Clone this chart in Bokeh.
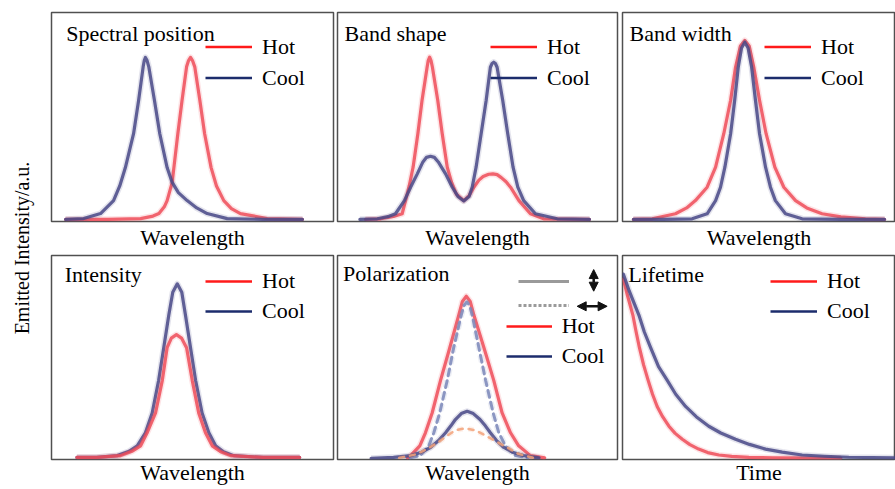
import math
from bokeh.plotting import figure
from bokeh.layouts import row, column
from bokeh.models import Range1d, FixedTicker, Legend, LegendItem, Arrow, NormalHead
from bokeh.core.properties import value
from bokeh.embed import file_html
from bokeh.resources import INLINE

FONT = "Liberation Serif"

# ---------------- data (x in % of panel width, y in % of panel height)
panel_titles = ["Spectral position", "Band shape", "Band width", "Intensity", "Polarization", "Lifetime"]
x_labels = ["Wavelength", "Wavelength", "Wavelength", "Wavelength", "Wavelength", "Time"]
legend_labels = ["Hot", "Cool"]
y_label = "Emitted Intensity/a.u."

# Spectral position
spec_cool_x = [5, 11.4, 17.4, 22.0, 24.2, 26.2, 29.1, 30.9, 32.5, 32.9, 33.3, 33.9, 34.5, 36.5, 38.4, 41.0, 42.8, 45.0, 48.1, 51.5, 55.2, 62.3, 75, 89]
spec_cool_y = [1, 1.4, 3.8, 10, 17, 25.8, 42, 58, 74, 77, 78.5, 77, 74, 58, 42, 25.8, 18.7, 13.8, 10, 6.5, 3.8, 1.4, 1, 1]
spec_hot_x = [5, 20, 31.6, 36, 38.1, 40.0, 41.0, 42.8, 43.4, 44.8, 46.3, 47.9, 48.6, 49.3, 50.0, 50.8, 52.6, 54.3, 56.6, 58.5, 61.1, 63.8, 67.0, 76.5, 89]
spec_hot_y = [1, 1, 1.4, 2.6, 3.8, 7, 10, 18.7, 25.8, 42, 58, 74, 77, 78.5, 77, 74, 58, 42, 25.8, 17, 10, 6.2, 3.8, 1.4, 1]

# Band shape
band_hot_x = [10, 15.4, 20, 23.1, 24.3, 25.6, 27.0, 28.7, 30.2, 32.0, 32.4, 32.9, 33.4, 33.9, 35.8, 37.4, 39.2, 40.8, 42.5, 45.1, 47.0, 48.7, 50.5, 52.0, 54.0, 55.5, 57.0, 58.5, 60.2, 61.8, 64.8, 68.9, 73.6, 90]
band_hot_y = [1, 1.3, 2.4, 3.7, 10, 17, 26, 42, 58, 73.8, 77, 78.6, 77, 73.8, 58, 42, 26, 18.5, 13, 10, 12.4, 16.4, 19.8, 21.5, 22.6, 22.8, 22.4, 21, 19, 16.4, 10, 3.7, 1.3, 1]
band_cool_x = [8, 14.2, 18, 20.7, 23.9, 26.1, 28.5, 30.5, 31.8, 33.2, 34.6, 36.0, 38.6, 41.0, 43.0, 45.1, 47.0, 48.1, 49.5, 51.3, 53.1, 54.6, 55.2, 55.8, 56.4, 57.0, 59.0, 60.8, 62.7, 64.4, 66.5, 70.7, 78.5, 90]
band_cool_y = [1, 1.3, 2.3, 3.7, 10, 16.4, 22.8, 28.5, 30.7, 31.2, 30.7, 28.5, 22.8, 16.4, 12, 9.8, 12, 16.4, 26, 42, 58, 73.8, 75.6, 76.2, 75.6, 73.8, 58, 42, 26, 16.4, 10, 3.7, 1.3, 1]

# Band width
width_hot_x = [4, 10.9, 19.4, 23.5, 26.7, 31.0, 34.1, 37.1, 39.6, 41.4, 43.2, 44.8, 46.4, 48.1, 50.2, 52.6, 55.8, 59.1, 63.4, 67.5, 73.1, 80, 89, 96]
width_hot_y = [1, 1.3, 3.7, 6.5, 10, 16.4, 26, 42, 58, 73.8, 84, 86.6, 84, 73.8, 58, 42, 26, 16.4, 10, 6.5, 3.7, 2.2, 1.3, 1]
width_cool_x = [4, 15, 25.5, 31.0, 34.1, 35.9, 37.5, 39.6, 41.1, 42.4, 43.6, 44.8, 46.0, 47.3, 48.7, 50.2, 52.4, 54.2, 56.0, 59.7, 65.8, 80, 96]
width_cool_y = [1, 1, 1.3, 3.7, 10, 16.4, 26, 42, 58, 73.8, 83, 85.8, 83, 73.8, 58, 42, 26, 16.4, 10, 3.7, 1.3, 1, 1]

# Intensity
int_cool_x = [9, 16, 23.3, 27.5, 30.4, 33.3, 35.7, 38.0, 39.8, 41.6, 43.0, 44.6, 46.2, 47.5, 49.3, 51.1, 53.4, 55.8, 58.2, 61.0, 64.6, 75, 88]
int_cool_y = [1, 1, 1.9, 4, 6.7, 13.1, 22.8, 38.8, 54.8, 70.8, 82, 86.1, 82, 70.8, 54.8, 38.8, 22.8, 13.1, 6.7, 3.8, 1.9, 1, 1]
int_hot_x = [9, 16, 24.5, 28.5, 31.6, 33.9, 36.9, 39.3, 41.0, 42.5, 44.3, 46.1, 47.9, 49.9, 52.2, 54.6, 57.0, 60.0, 63.5, 75, 88]
int_hot_y = [1, 1, 1.9, 4, 6.7, 13.1, 22.8, 38.8, 54.8, 59.5, 61.2, 59.5, 54.8, 38.8, 22.8, 13.1, 6.7, 3.8, 1.9, 1, 1]

# Polarization (solid = parallel, dashed = perpendicular)
pol_hot_x = [25, 26.1, 29.4, 31.4, 33.8, 36.8, 40.1, 43.3, 44.6, 46.0, 47.4, 48.7, 52.3, 55.8, 58.8, 61.8, 64.7, 68.9, 74]
pol_hot_y = [0.8, 1.9, 6.7, 13.1, 22.8, 38.8, 54.8, 70.8, 77.5, 80.0, 77.5, 70.8, 54.8, 38.8, 22.8, 13.1, 6.7, 1.9, 0.8]
pol_cool_perp_x = [26, 29.6, 32.6, 34.4, 36.5, 39.2, 41.5, 44.2, 45.2, 46.2, 47.2, 48.1, 50.5, 52.9, 55.6, 57.6, 60.0, 63.6, 68]
pol_cool_perp_y = [0.8, 1.9, 6.7, 13.1, 22.8, 38.8, 54.8, 70.8, 75.5, 77.2, 75.5, 70.8, 54.8, 38.8, 22.8, 13.1, 6.7, 1.9, 0.8]
pol_cool_x = [12, 20, 26.1, 30, 33.2, 36.0, 38.6, 40.5, 42.1, 44.2, 46.3, 48.5, 50.9, 52.8, 54.6, 57.0, 59.4, 62.5, 66.5, 72]
pol_cool_y = [0.6, 1.0, 1.9, 3.6, 5.9, 9.2, 13.1, 16.5, 19.6, 22.5, 23.6, 22.5, 19.6, 16.5, 13.1, 9.0, 5.9, 3.6, 1.9, 0.8]
pol_hot_perp_x = [22, 28, 32.5, 36.0, 39.0, 42.0, 45.7, 49.3, 52.5, 55.2, 58.0, 60.6, 64.5, 70]
pol_hot_perp_y = [0.8, 2.5, 5.5, 8.5, 11.5, 14.3, 15.3, 14.3, 12, 10, 7.8, 5.9, 2.8, 0.8]

# Lifetime
life_cool_x = [0.3, 2.5, 6.0, 8.0, 10.3, 13.2, 16.4, 19.5, 23.1, 27.0, 31.6, 36.0, 41.4, 46.5, 52.4, 58.5, 65.8, 74.0, 82.9, 100]
life_cool_y = [90.9, 82.5, 70.8, 62.5, 54.8, 45.5, 38.8, 32.0, 26.0, 21.0, 16.3, 13.0, 9.9, 7.4, 5.1, 3.6, 2.2, 1.6, 1.1, 0.8]
life_hot_x = [0.3, 1.8, 3.8, 5.0, 6.2, 7.7, 9.4, 11.0, 12.7, 14.7, 17.0, 19.3, 21.9, 24.7, 27.9, 31.2, 35.3, 40.0, 46.3, 55.0, 80.0]
life_hot_y = [88.5, 80.5, 70.8, 62.5, 54.8, 46.5, 38.8, 32.0, 26.0, 21.0, 16.3, 12.8, 9.9, 7.3, 5.1, 3.4, 2.2, 1.5, 1.0, 0.8, 0.7]

# ---------------- styling
HOT_CURVE = "#ef4c58"
COOL_CURVE = "#484886"
COOL_DASH = "#7a86b8"
HOT_DASH = "#f2a27a"
HOT_KEY = "#ff1a1a"
COOL_KEY = "#1c2c6c"
TOTAL_H = 489


def make_panel(title, xlabel, fw, fh, top, left, right, standoff, tx, ty):
    p = figure(frame_width=fw, frame_height=fh, x_range=Range1d(0, 100), y_range=Range1d(0, 100),
               toolbar_location=None, output_backend="svg", y_axis_location=None,
               min_border_top=top, min_border_left=left, min_border_right=right, min_border_bottom=0)
    p.grid.visible = False
    p.outline_line_color = "#505050"
    p.outline_line_width = 1.5
    p.background_fill_color = "white"
    p.border_fill_color = "white"
    ax = p.xaxis[0]
    ax.ticker = FixedTicker(ticks=[])
    ax.axis_line_color = None
    ax.major_tick_out = 0
    ax.major_tick_in = 0
    ax.minor_tick_out = 0
    ax.minor_tick_in = 0
    ax.major_label_standoff = 0
    ax.axis_label = xlabel
    ax.axis_label_standoff = standoff
    ax.axis_label_text_font = FONT
    ax.axis_label_text_font_size = "22px"
    ax.axis_label_text_font_style = "normal"
    ax.axis_label_text_color = "black"
    p.text(x=[tx], y=[ty], text=[title], text_font=value(FONT), text_font_size="22px",
           text_baseline="middle", text_align="left", text_color="black")
    return p


def curve(p, xs, ys, color, dash="solid", width=3.2, alpha=0.85):
    p.line(xs, ys, line_color=color, line_width=width + 3, line_alpha=0.15, line_dash=dash, line_join="round")
    p.line(xs, ys, line_color=color, line_width=width, line_alpha=alpha, line_dash=dash,
           line_join="round", line_cap="round")


def add_key(p, labels, colors, x, y, glyph_w, row_h, dashes=None, width=2.5):
    items = []
    for i, (lab, col) in enumerate(zip(labels, colors)):
        d = dashes[i] if dashes else "solid"
        # off-range stand-in renderer that only supplies the key's line style
        r = p.line(x=[-20, -10], y=[-20, -20], line_color=col, line_width=width, line_dash=d)
        items.append(LegendItem(label=value(lab), renderers=[r]))
    lg = Legend(items=items, location=(x, y), orientation="vertical", glyph_width=glyph_w,
                glyph_height=row_h, label_height=row_h, label_standoff=10, spacing=0, padding=0,
                margin=0, border_line_color=None, background_fill_alpha=0,
                label_text_font=FONT, label_text_font_size="22px", label_text_color="black")
    p.add_layout(lg)


H1, H2 = 209, 204
key_cols = [HOT_KEY, COOL_KEY]

# Row 1
p1 = make_panel(panel_titles[0], x_labels[0], 282, H1, 12, 1, 2, 3, 5.2, 90.0)
curve(p1, spec_hot_x, spec_hot_y, HOT_CURVE)
curve(p1, spec_cool_x, spec_cool_y, COOL_CURVE)
add_key(p1, legend_labels, key_cols, 154, 127.8, 47, 31)

p2 = make_panel(panel_titles[1], x_labels[1], 280, H1, 12, 2, 2, 3, 2.5, 90.0)
curve(p2, band_hot_x, band_hot_y, HOT_CURVE)
curve(p2, band_cool_x, band_cool_y, COOL_CURVE)
add_key(p2, legend_labels, key_cols, 153, 127.8, 47, 31)

p3 = make_panel(panel_titles[2], x_labels[2], 273, H1, 12, 3, 0, 3, 2.6, 90.0)
curve(p3, width_hot_x, width_hot_y, HOT_CURVE)
curve(p3, width_cool_x, width_cool_y, COOL_CURVE)
add_key(p3, legend_labels, key_cols, 142, 127.8, 47, 31)

# Row 2
p4 = make_panel(panel_titles[3], x_labels[3], 282, H2, 3, 1, 2, 0, 4.7, 90.7)
curve(p4, int_cool_x, int_cool_y, COOL_CURVE)
curve(p4, int_hot_x, int_hot_y, HOT_CURVE)
add_key(p4, legend_labels, key_cols, 154, 132.7, 47, 30)

p5 = make_panel(panel_titles[4], x_labels[4], 280, H2, 3, 2, 2, 0, 2.0, 91.0)
curve(p5, pol_hot_x, pol_hot_y, HOT_CURVE)
curve(p5, pol_cool_perp_x, pol_cool_perp_y, COOL_DASH, dash="7 5", width=3)
curve(p5, pol_cool_x, pol_cool_y, COOL_CURVE)
curve(p5, pol_hot_perp_x, pol_hot_perp_y, HOT_DASH, dash="5 6", width=2.5)
add_key(p5, [" ", " "], ["#9a9a9a", "#9a9a9a"], 181.3, 141.7, 51, 24, dashes=["solid", "3 2"], width=3)
add_key(p5, legend_labels, key_cols, 168.7, 88.3, 46, 30)
for xs, ys, xe, ye in [(91.5, 82.5, 91.5, 93.1), (85.6, 75.1, 96.3, 75.1)]:
    p5.add_layout(Arrow(start=NormalHead(size=9, fill_color="#111111", line_color="#111111"),
                        end=NormalHead(size=9, fill_color="#111111", line_color="#111111"),
                        x_start=xs, y_start=ys, x_end=xe, y_end=ye, line_width=2.5, line_color="#111111"))

p6 = make_panel(panel_titles[5], x_labels[5], 273, H2, 3, 3, 0, 0, 2.1, 90.7)
curve(p6, life_hot_x, life_hot_y, HOT_CURVE)
curve(p6, life_cool_x, life_cool_y, COOL_CURVE)
add_key(p6, legend_labels, key_cols, 148, 132.7, 47, 30)

# y label strip
ylab = figure(width=50, height=TOTAL_H, x_range=Range1d(0, 50), y_range=Range1d(0, TOTAL_H),
              toolbar_location=None, output_backend="svg", min_border=0,
              x_axis_location=None, y_axis_location=None)
ylab.outline_line_color = None
ylab.grid.visible = False
ylab.text(x=[21.7], y=[TOTAL_H - 247.5], text=[y_label], angle=math.pi / 2, text_align="center",
          text_baseline="middle", text_font=value(FONT), text_font_size="20px", text_color="black")

layout = row(ylab, column(row(p1, p2, p3), row(p4, p5, p6)))
open("out.html", "w").write(file_html(layout, INLINE))
